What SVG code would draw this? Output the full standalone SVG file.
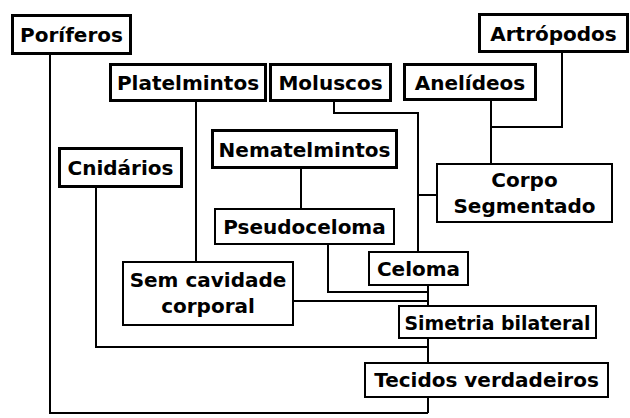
<svg xmlns="http://www.w3.org/2000/svg" width="630" height="418" viewBox="0 0 630 418">
<style>
.t{fill:#fff;stroke:#000;stroke-width:3}
.f{fill:#fff;stroke:#000;stroke-width:2}
text{font-family:"DejaVu Sans","Liberation Sans",sans-serif;font-weight:bold;font-size:20px;fill:#000;text-anchor:middle}
#connectors path{fill:none;stroke:#000;stroke-width:2}
</style>
<rect width="630" height="418" fill="#fff"/>
<g id="connectors">
<path d="M50 55V413H428"/>
<path d="M428 398V413"/>
<path d="M96 188V347H428"/>
<path d="M428 339V362"/>
<path d="M294 301H428"/>
<path d="M428 286V305"/>
<path d="M328 245V292H428"/>
<path d="M301 169V208"/>
<path d="M196 102V261"/>
<path d="M334 102V113H418V251"/>
<path d="M418 195H436"/>
<path d="M491 101V163"/>
<path d="M562 53V127H491"/>
</g>
<g id="poriferos"><rect class="t" x="12.5" y="15.5" width="118" height="38"/><text x="71.5" y="42">Poríferos</text></g>
<g id="platelmintos"><rect class="t" x="110.5" y="64.5" width="155" height="36"/><text x="188" y="90">Platelmintos</text></g>
<g id="moluscos"><rect class="t" x="270.5" y="64.5" width="120" height="36"/><text x="330.5" y="90">Moluscos</text></g>
<g id="anelideos"><rect class="t" x="404.5" y="64.5" width="131" height="35"/><text x="470" y="89.5">Anelídeos</text></g>
<g id="artropodos"><rect class="t" x="479.5" y="14.5" width="148" height="37"/><text x="553.5" y="40.5">Artrópodos</text></g>
<g id="nematelmintos"><rect class="t" x="212.5" y="130.5" width="184" height="37"/><text x="304.5" y="156.5">Nematelmintos</text></g>
<g id="cnidarios"><rect class="t" x="59.5" y="148.5" width="122" height="38"/><text x="120.5" y="175">Cnidários</text></g>
<g id="corpo-segmentado"><rect class="f" x="437" y="164" width="175" height="58"/><text x="524.5" y="187">Corpo</text><text x="524.5" y="212.5">Segmentado</text></g>
<g id="pseudoceloma"><rect class="f" x="215" y="209" width="179" height="35"/><text x="304.5" y="233.5">Pseudoceloma</text></g>
<g id="celoma"><rect class="f" x="369" y="252" width="99" height="33"/><text x="418.5" y="275.5">Celoma</text></g>
<g id="sem-cavidade"><rect class="f" x="123" y="262" width="170" height="63"/><text x="208" y="287">Sem cavidade</text><text x="208" y="313">corporal</text></g>
<g id="simetria-bilateral"><rect class="f" x="399" y="306" width="197" height="32"/><text x="497.5" y="329.5" textLength="186" lengthAdjust="spacingAndGlyphs">Simetria bilateral</text></g>
<g id="tecidos-verdadeiros"><rect class="f" x="365" y="363" width="243" height="34"/><text x="486.5" y="386.5">Tecidos verdadeiros</text></g>
</svg>
